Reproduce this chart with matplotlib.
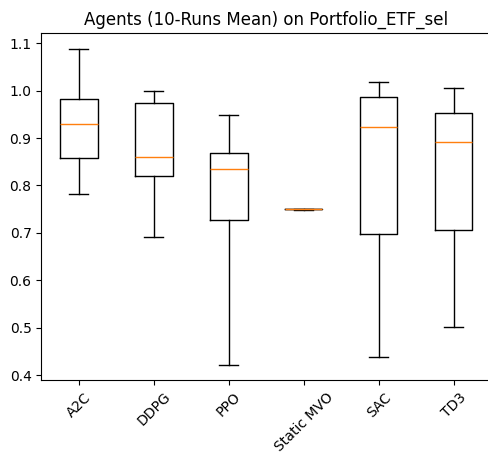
import matplotlib
matplotlib.use("Agg")
import matplotlib.pyplot as plt

# Per-agent box statistics of the 10-run mean
agents = ["A2C", "DDPG", "PPO", "Static MVO", "SAC", "TD3"]
whisker_low = [0.781, 0.692, 0.422, 0.7492, 0.437, 0.501]
q1 = [0.859, 0.820, 0.727, 0.7495, 0.698, 0.705]
median = [0.929, 0.860, 0.834, 0.7500, 0.923, 0.892]
q3 = [0.983, 0.973, 0.869, 0.7505, 0.987, 0.953]
whisker_high = [1.087, 1.000, 0.949, 0.7508, 1.018, 1.005]

stats = []
for i, name in enumerate(agents):
    stats.append({
        "label": name,
        "whislo": whisker_low[i],
        "q1": q1[i],
        "med": median[i],
        "q3": q3[i],
        "whishi": whisker_high[i],
        "fliers": [],
    })

fig = plt.figure(figsize=(4.89, 4.57), dpi=100)
ax = fig.add_axes([0.0845, 0.168, 0.92, 0.759])
ax.bxp(stats, showfliers=False)
ax.set_ylim(0.389, 1.121)
ax.set_title("Agents (10-Runs Mean) on Portfolio_ETF_sel")
plt.setp(ax.get_xticklabels(), rotation=45)

fig.savefig("out.png", dpi=100)
